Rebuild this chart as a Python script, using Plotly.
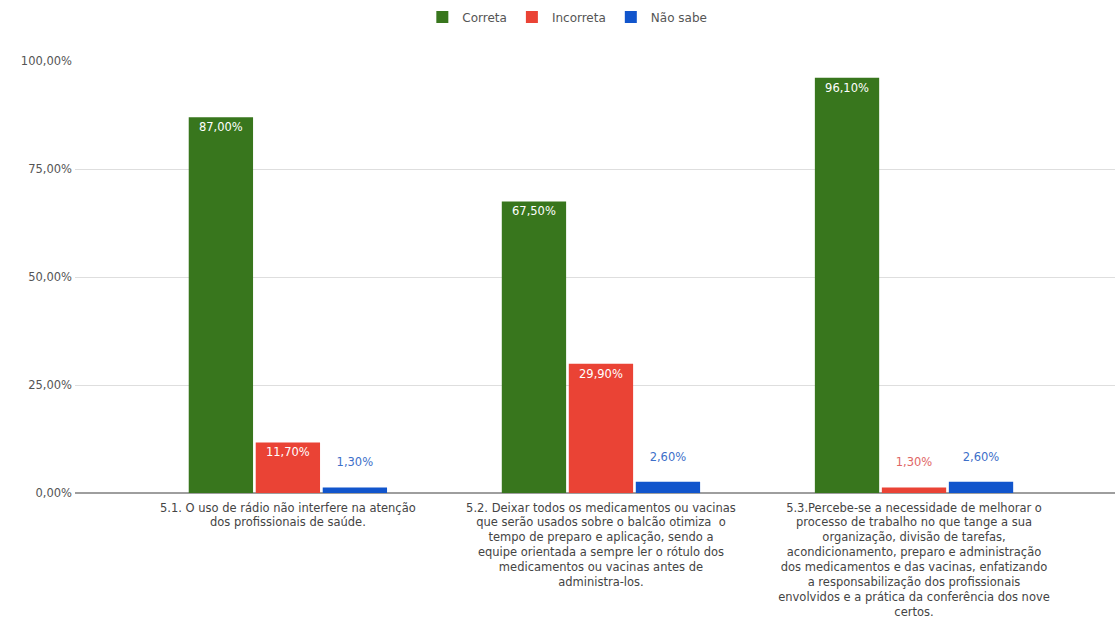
import plotly.graph_objects as go

categories = [
    "5.1. O uso de rádio não interfere na atenção<br>dos profissionais de saúde.",
    "5.2. Deixar todos os medicamentos ou vacinas<br>que serão usados sobre o balcão otimiza  o<br>tempo de preparo e aplicação, sendo a<br>equipe orientada a sempre ler o rótulo dos<br>medicamentos ou vacinas antes de<br>administra-los.",
    "5.3.Percebe-se a necessidade de melhorar o<br>processo de trabalho no que tange a sua<br>organização, divisão de tarefas,<br>acondicionamento, preparo e administração<br>dos medicamentos e das vacinas, enfatizando<br>a responsabilização dos profissionais<br>envolvidos e a prática da conferência dos nove<br>certos.",
]
series_names = ["Correta", "Incorreta", "Não sabe"]
correta = [87.0, 67.5, 96.1]
incorreta = [11.7, 29.9, 1.3]
nao_sabe = [1.3, 2.6, 2.6]
y_ticks = [0, 25, 50, 75, 100]
y_tick_labels = ["0,00%", "25,00%", "50,00%", "75,00%", "100,00%"]

colors = ["#38761d", "#ea4335", "#1155cc"]
label_colors = ["#38761d", "#e06666", "#3d6fc9"]
FONT = "DejaVu Sans"

fig = go.Figure()
for name, vals, col, lcol in zip(series_names, [correta, incorreta, nao_sabe], colors, label_colors):
    inside = [v > 8 for v in vals]
    fig.add_trace(go.Bar(
        name=name,
        x=[0, 1, 2],
        y=vals,
        marker=dict(color=col, line=dict(width=0)),
        texttemplate=["%{y:.2f}%" if i else "%{y:.2f}%<br>\u00a0" for i in inside],
        textposition=["inside" if i else "outside" for i in inside],
        insidetextanchor="end",
        insidetextfont=dict(color="white", size=11.5, family=FONT),
        outsidetextfont=dict(color=lcol, size=11.5, family=FONT),
        textangle=0,
        constraintext="none",
        cliponaxis=False,
        hoverinfo="skip",
    ))

fig.update_layout(
    width=1119, height=633,
    margin=dict(l=75, r=4, t=61, b=140),
    paper_bgcolor="white", plot_bgcolor="white",
    separators=",.",
    barmode="group",
    bargap=0.358,
    bargroupgap=0.04,
    font=dict(family=FONT, size=12, color="#444444"),
    legend=dict(
        orientation="h",
        xref="container", yref="container",
        x=0.507, xanchor="center",
        y=1 - 17 / 633, yanchor="middle",
        font=dict(size=12, color="#555555", family=FONT),
        itemwidth=30,
        traceorder="normal",
    ),
    showlegend=True,
)
fig.update_xaxes(
    tickmode="array", tickvals=[0, 1, 2], ticktext=categories,
    range=[-0.68, 2.642],
    showgrid=False, zeroline=False, showline=False,
    ticks="", tickangle=0, ticklabelstandoff=6,
    tickfont=dict(size=11.5, color="#444444", family=FONT),
    automargin=False,
)
fig.update_yaxes(
    range=[0, 100],
    tickmode="array", tickvals=y_ticks, ticktext=y_tick_labels,
    showgrid=True, gridcolor="#dedede", gridwidth=1,
    zeroline=True, zerolinecolor="#9e9e9e", zerolinewidth=1.5,
    showline=False, ticks="", ticklabelstandoff=2,
    tickfont=dict(size=11.5, color="#555555", family=FONT),
    automargin=False,
)

fig.write_html("out.html")
